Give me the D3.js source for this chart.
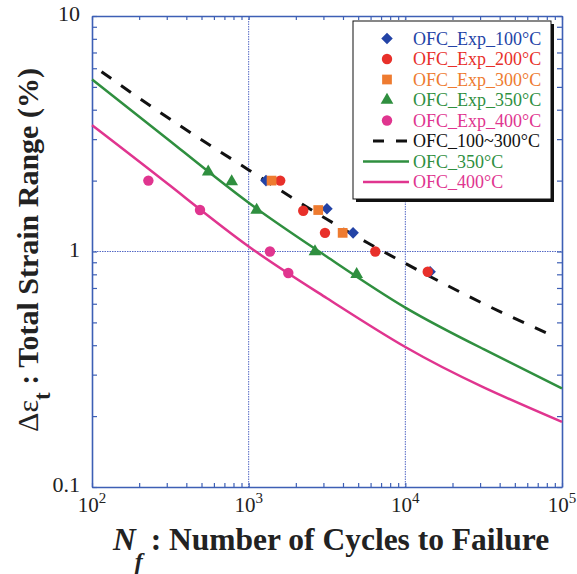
<head>
    <script src="https://d3js.org/d3.v7.min.js"></script>
    <style>
        body { margin: 0; background: white; }
        text { font-family: "Liberation Serif", "Times New Roman", serif; }
        .axis .domain { stroke: #3d5fb5; stroke-width: 1.6; }
        .axis line { stroke: #3d5fb5; stroke-width: 1.2; }
    </style>
</head>

<body>
<svg id="plot" width="577" height="574"></svg>
<script>
    //experimental points (cycles to failure, strain range %)
    const exp100N = [1290, 3160, 4640, 14400];
    const exp100S = [2.0, 1.52, 1.2, 0.82];
    const exp200N = [1590, 2230, 3070, 6430, 13900];
    const exp200S = [2.0, 1.49, 1.2, 1.0, 0.82];
    const exp300N = [1400, 2780, 3980];
    const exp300S = [2.0, 1.5, 1.2];
    const exp350N = [552, 779, 1125, 2650, 4890];
    const exp350S = [2.18, 1.98, 1.5, 1.0, 0.8];
    const exp400N = [229, 489, 1367, 1790];
    const exp400S = [2.0, 1.5, 1.0, 0.81];

    //fitted curves
    const fit100N = [115, 316, 1000, 3160, 10000, 31600, 85900];
    const fit100S = [5.80, 3.64, 2.22, 1.37, 0.89, 0.60, 0.441];
    const fitN = [100, 316, 1000, 3160, 10000, 31600, 100000];
    const fit350S = [5.38, 2.94, 1.61, 0.95, 0.578, 0.385, 0.262];
    const fit400S = [3.44, 1.90, 1.05, 0.633, 0.393, 0.265, 0.189];

    const xLabelExps = ["2", "3", "4", "5"];
    const xLabelVals = [100, 1000, 10000, 100000];
    const yLabelVals = [10, 1, 0.1];
    const yLabelText = ["10", "1", "0.1"];

    const svg = d3.select("svg#plot");
    const pLeft = 92, pRight = 562, pTop = 16, pBottom = 487;

    const x = d3.scaleLog().domain([100, 100000]).range([pLeft, pRight]);
    const y = d3.scaleLog().domain([0.1, 10]).range([pBottom, pTop]);

    const blue = "#2343a6", red = "#e8302a", orange = "#ee7b30", green = "#2f8f3f", pink = "#e0358f";

    //gridlines
    const grid = svg.append("g");
    [1000, 10000].forEach(v => {
        grid.append("line").attr("x1", x(v)).attr("x2", x(v)).attr("y1", pTop).attr("y2", pBottom)
            .attr("stroke", "#5468c4").attr("stroke-width", 1).attr("stroke-dasharray", "1.5,1");
    });
    grid.append("line").attr("x1", pLeft).attr("x2", pRight).attr("y1", y(1)).attr("y2", y(1))
        .attr("stroke", "#5468c4").attr("stroke-width", 1).attr("stroke-dasharray", "1.5,1");

    //axes, ticks pointing inwards
    svg.append("g").attr("class", "axis").attr("transform", `translate(0,${pBottom})`)
        .call(d3.axisBottom(x).tickSizeInner(-4).tickSizeOuter(0).tickFormat(""));
    svg.append("g").attr("class", "axis").attr("transform", `translate(0,${pTop})`)
        .call(d3.axisTop(x).tickSizeInner(-4).tickSizeOuter(0).tickFormat(""));
    svg.append("g").attr("class", "axis").attr("transform", `translate(${pLeft},0)`)
        .call(d3.axisLeft(y).tickSizeInner(-5).tickSizeOuter(0).tickFormat(""));
    svg.append("g").attr("class", "axis").attr("transform", `translate(${pRight},0)`)
        .call(d3.axisRight(y).tickSizeInner(-5).tickSizeOuter(0).tickFormat(""));

    //tick labels
    xLabelVals.forEach((v, i) => {
        const t = svg.append("text").attr("x", x(v)).attr("y", 512)
            .attr("text-anchor", "middle").attr("font-size", 21).attr("fill", "#222");
        t.append("tspan").text("10");
        t.append("tspan").attr("dy", -9).attr("font-size", 15).text(xLabelExps[i]);
    });
    yLabelVals.forEach((v, i) => {
        svg.append("text").attr("x", 80).attr("y", y(v) + 5)
            .attr("text-anchor", "end").attr("font-size", 22).attr("fill", "#222")
            .text(yLabelText[i]);
    });

    //axis titles
    const xt = svg.append("text").attr("x", 113).attr("y", 550)
        .attr("font-size", 31.5).attr("font-weight", "bold").attr("fill", "#222");
    xt.append("tspan").attr("font-style", "italic").text("N");
    xt.append("tspan").attr("font-style", "italic").attr("font-size", 24).attr("dy", 19).attr("dx", -1).text("f");
    xt.append("tspan").attr("dy", -19).text(" : Number of Cycles to Failure");

    const yt = svg.append("text").attr("transform", "translate(38,250) rotate(-90)")
        .attr("text-anchor", "middle").attr("font-size", 30).attr("font-weight", "bold").attr("fill", "#222");
    yt.append("tspan").attr("font-weight", "normal").text("Δε");
    yt.append("tspan").attr("font-size", 23).attr("dy", 12).text("t");
    yt.append("tspan").attr("dy", -12).text(" : Total Strain Range (%)");

    //fitted lines
    const line = d3.line().x(d => x(d[0])).y(d => y(d[1])).curve(d3.curveNatural);
    svg.append("path").datum(fitN.map((n, i) => [n, fit350S[i]])).attr("d", line)
        .attr("fill", "none").attr("stroke", green).attr("stroke-width", 2.5);
    svg.append("path").datum(fitN.map((n, i) => [n, fit400S[i]])).attr("d", line)
        .attr("fill", "none").attr("stroke", pink).attr("stroke-width", 2.5);
    svg.append("path").datum(fit100N.map((n, i) => [n, fit100S[i]])).attr("d", line)
        .attr("fill", "none").attr("stroke", "#111").attr("stroke-width", 3).attr("stroke-dasharray", "12,12");

    //markers
    const sym = {
        diamond: d3.symbol().type(d3.symbolDiamond2).size(85),
        circle: d3.symbol().type(d3.symbolCircle).size(85),
        square: d3.symbol().type(d3.symbolSquare).size(95),
        triangle: d3.symbol().type(d3.symbolTriangle).size(70)
    };
    const series = [
        {N: exp100N, S: exp100S, shape: "diamond", color: blue},
        {N: exp200N, S: exp200S, shape: "circle", color: red},
        {N: exp300N, S: exp300S, shape: "square", color: orange},
        {N: exp350N, S: exp350S, shape: "triangle", color: green},
        {N: exp400N, S: exp400S, shape: "circle", color: pink}
    ];
    series.forEach(s => {
        svg.append("g").selectAll("path")
            .data(s.N.map((n, i) => [n, s.S[i]]))
            .enter()
            .append("path")
            .attr("transform", d => `translate(${x(d[0])},${y(d[1])})`)
            .attr("d", sym[s.shape])
            .attr("fill", s.color);
    });

    //legend
    const lg = svg.append("g");
    lg.append("rect").attr("x", 356).attr("y", 24).attr("width", 198).attr("height", 178).attr("fill", "#111");
    lg.append("rect").attr("x", 353).attr("y", 21).attr("width", 198).attr("height", 178)
        .attr("fill", "white").attr("stroke", "#111").attr("stroke-width", 1);
    const legendItems = [
        {label: "OFC_Exp_100°C", color: blue, shape: "diamond"},
        {label: "OFC_Exp_200°C", color: red, shape: "circle"},
        {label: "OFC_Exp_300°C", color: orange, shape: "square"},
        {label: "OFC_Exp_350°C", color: green, shape: "triangle"},
        {label: "OFC_Exp_400°C", color: pink, shape: "circle"},
        {label: "OFC_100~300°C", color: "#111", line: "dash"},
        {label: "OFC_350°C", color: green, line: "solid"},
        {label: "OFC_400°C", color: pink, line: "solid"}
    ];
    legendItems.forEach((d, i) => {
        const cy = 38.5 + i * 20.5;
        if (d.shape) {
            lg.append("path").attr("transform", `translate(387,${cy})`).attr("d", sym[d.shape]).attr("fill", d.color);
        } else if (d.line == "dash") {
            lg.append("line").attr("x1", 373).attr("x2", 407).attr("y1", cy).attr("y2", cy)
                .attr("stroke", d.color).attr("stroke-width", 3).attr("stroke-dasharray", "11,12");
        } else {
            lg.append("line").attr("x1", 363).attr("x2", 409).attr("y1", cy).attr("y2", cy)
                .attr("stroke", d.color).attr("stroke-width", 2.5);
        }
        lg.append("text").attr("x", 413).attr("y", cy + 6).attr("font-size", 18)
            .attr("fill", d.color).text(d.label);
    });
</script>
</body>
